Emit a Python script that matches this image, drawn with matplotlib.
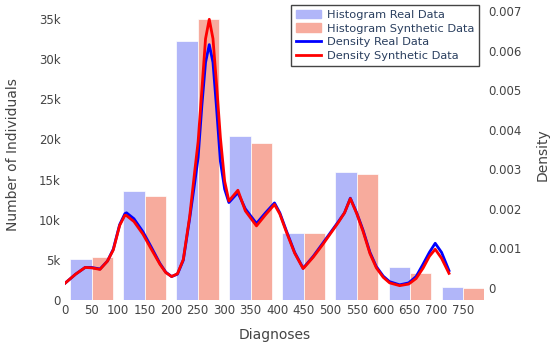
import matplotlib
matplotlib.use("Agg")
import matplotlib.pyplot as plt
from matplotlib.lines import Line2D
from matplotlib.patches import Patch

# Histogram data (bins of width 100)
bin_starts = [0, 100, 200, 300, 400, 500, 600, 700]
real_counts = [5100, 13600, 32300, 20400, 8400, 15900, 4150, 1600]
synth_counts = [5300, 12900, 35000, 19600, 8300, 15650, 3300, 1450]

# Density curves
dens_x = [0, 20, 38, 50, 66, 80, 91, 103, 113, 116, 130, 147, 162, 179, 190,
          201, 212, 223, 235, 245, 251, 258, 265, 272, 279, 286, 293, 301, 309,
          326, 340, 361, 378, 395, 405, 417, 433, 449, 468, 486, 515, 527, 538,
          550, 562, 575, 587, 600, 612, 631, 648, 662, 675, 687, 698, 710, 724]
dens_real = [0.00012, 0.00035, 0.00052, 0.00052, 0.00048, 0.00068, 0.00098,
             0.00160, 0.00188, 0.00190, 0.00175, 0.00142, 0.00105, 0.00062,
             0.00040, 0.00029, 0.00035, 0.00070, 0.00175, 0.00270, 0.00330,
             0.00460, 0.00570, 0.00615, 0.00570, 0.00450, 0.00320, 0.00250,
             0.00216, 0.00241, 0.00200, 0.00163, 0.00190, 0.00215, 0.00190,
             0.00146, 0.00090, 0.00050, 0.00080, 0.00113, 0.00167, 0.00190,
             0.00227, 0.00190, 0.00146, 0.00090, 0.00054, 0.00030, 0.00016,
             0.00008, 0.00013, 0.00029, 0.00060, 0.00090, 0.00113, 0.00090,
             0.00044]
dens_synth = [0.00012, 0.00035, 0.00052, 0.00051, 0.00047, 0.00068, 0.00096,
              0.00158, 0.00184, 0.00183, 0.00168, 0.00136, 0.00100, 0.00060,
              0.00039, 0.00029, 0.00036, 0.00072, 0.00180, 0.00300, 0.00370,
              0.00500, 0.00630, 0.00679, 0.00630, 0.00510, 0.00380, 0.00270,
              0.00220, 0.00247, 0.00195, 0.00157, 0.00185, 0.00211, 0.00187,
              0.00143, 0.00088, 0.00049, 0.00078, 0.00110, 0.00165, 0.00190,
              0.00226, 0.00188, 0.00143, 0.00087, 0.00051, 0.00027, 0.00013,
              0.00006, 0.00010, 0.00024, 0.00050, 0.00080, 0.00098, 0.00075,
              0.00037]

y_ticks = [0, 5000, 10000, 15000, 20000, 25000, 30000, 35000]
y_labels = ["0", "5k", "10k", "15k", "20k", "25k", "30k", "35k"]
d_ticks = [0, 0.001, 0.002, 0.003, 0.004, 0.005, 0.006, 0.007]
d_labels = ["0", "0.001", "0.002", "0.003", "0.004", "0.005", "0.006", "0.007"]

blue_bar = "#b1b6f9"
red_bar = "#f7ab9d"
tick_col = "#444444"

fig = plt.figure(figsize=(5.5, 3.48), dpi=100)
ax = fig.add_axes([65 / 550, 48 / 348, 419 / 550, 290 / 348])

ax.bar([b + 10 for b in bin_starts], real_counts, width=40, align="edge",
       color=blue_bar, edgecolor="white", linewidth=0.5)
ax.bar([b + 50 for b in bin_starts], synth_counts, width=40, align="edge",
       color=red_bar, edgecolor="white", linewidth=0.5)

ax.set_xlim(0, 790)
ax.set_ylim(0, 36100)
ax.set_xticks(range(0, 800, 50))
ax.set_yticks(y_ticks)
ax.set_yticklabels(y_labels)
ax.set_xlabel("Diagnoses", fontsize=10, color=tick_col, labelpad=8)
ax.set_ylabel("Number of Individuals", fontsize=10, color=tick_col, labelpad=14)

ax2 = ax.twinx()
ax2.plot(dens_x, dens_real, color="#0000ff", linewidth=2)
ax2.plot(dens_x, dens_synth, color="#ff0000", linewidth=2)
ax2.set_ylim(-0.000303, 0.007025)
ax2.set_yticks(d_ticks)
ax2.set_yticklabels(d_labels)
ax2.set_ylabel("Density", fontsize=10, color=tick_col, rotation=90, labelpad=10)

for a in (ax, ax2):
    for s in a.spines.values():
        s.set_visible(False)
    a.tick_params(length=0, labelsize=8.5, labelcolor=tick_col, pad=3)

handles = [Patch(color=blue_bar), Patch(color=red_bar),
           Line2D([], [], color="#0000ff", linewidth=2),
           Line2D([], [], color="#ff0000", linewidth=2)]
names = ["Histogram Real Data", "Histogram Synthetic Data",
         "Density Real Data", "Density Synthetic Data"]
leg = ax2.legend(handles, names, loc="upper left",
                 bbox_to_anchor=(291 / 550, 1 - 5 / 348),
                 bbox_transform=fig.transFigure, fontsize=8.2,
                 frameon=True, fancybox=False, framealpha=1,
                 edgecolor="#444444", labelspacing=0.3, handlelength=2.2,
                 handleheight=0.8, borderpad=0.4, handletextpad=0.6,
                 borderaxespad=0)
leg.get_frame().set_linewidth(1)
for t in leg.get_texts():
    t.set_color("#2a3f5f")

fig.savefig("out.png", dpi=100)
